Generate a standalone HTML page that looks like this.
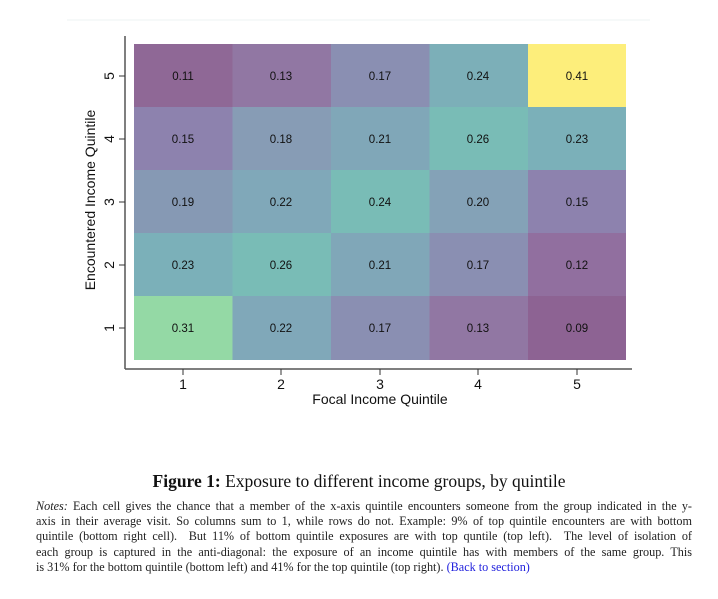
<!DOCTYPE html>
<html><head><meta charset="utf-8"><style>
body{margin:0;background:#fff;width:718px;height:599px;overflow:hidden;position:relative}
.cap{position:absolute;top:471px;left:0;width:718px;text-align:center;font-family:"Liberation Serif",serif;font-size:17.5px;color:#111}
.notes{position:absolute;top:499px;left:36px;width:656px;font-family:"Liberation Serif",serif;font-size:12.2px;line-height:15.2px;color:#222}
.notes div{text-align:justify;text-align-last:justify;white-space:nowrap;overflow:visible}
.notes div.last{text-align-last:left}
</style></head><body>
<svg width="718" height="470" style="position:absolute;left:0;top:0" font-family="Liberation Sans, sans-serif">
<line x1="67" y1="20" x2="650" y2="20" stroke="#eef3f3" stroke-width="1"/>
<line x1="125" y1="36" x2="125" y2="369" stroke="#555" stroke-width="1.5"/>
<line x1="125" y1="369" x2="632" y2="369" stroke="#555" stroke-width="1.5"/>
<g stroke="#333" stroke-width="1">
<line x1="119" y1="76" x2="125" y2="76"/><line x1="119" y1="139" x2="125" y2="139"/><line x1="119" y1="202" x2="125" y2="202"/><line x1="119" y1="265" x2="125" y2="265"/><line x1="119" y1="328" x2="125" y2="328"/>
<line x1="183" y1="369" x2="183" y2="375"/><line x1="281" y1="369" x2="281" y2="375"/><line x1="380" y1="369" x2="380" y2="375"/><line x1="478" y1="369" x2="478" y2="375"/><line x1="577" y1="369" x2="577" y2="375"/>
</g>
<g font-size="14" fill="#111" text-anchor="middle">
<text x="183" y="389">1</text><text x="281" y="389">2</text><text x="380" y="389">3</text><text x="478" y="389">4</text><text x="577" y="389">5</text>
<text x="380" y="404">Focal Income Quintile</text>
<text transform="translate(109,76) rotate(-90)" dy="5">5</text>
<text transform="translate(109,139) rotate(-90)" dy="5">4</text>
<text transform="translate(109,202) rotate(-90)" dy="5">3</text>
<text transform="translate(109,265) rotate(-90)" dy="5">2</text>
<text transform="translate(109,328) rotate(-90)" dy="5">1</text>
<text transform="translate(95,200) rotate(-90)">Encountered Income Quintile</text>
</g>
<g font-size="11.5" fill="#111" text-anchor="middle">
<rect x="134" y="44" width="99" height="64" fill="#8f6896"/><rect x="232.5" y="44" width="99" height="64" fill="#9177a3"/><rect x="331" y="44" width="99" height="64" fill="#8a8fb2"/><rect x="429.5" y="44" width="99" height="64" fill="#7cafb8"/><rect x="528" y="44" width="98" height="64" fill="#fdee7b"/>
<rect x="134" y="107" width="99" height="64" fill="#8d82ae"/><rect x="232.5" y="107" width="99" height="64" fill="#879cb5"/><rect x="331" y="107" width="99" height="64" fill="#80a7b8"/><rect x="429.5" y="107" width="99" height="64" fill="#79bcb6"/><rect x="528" y="107" width="98" height="64" fill="#7bb0b9"/>
<rect x="134" y="170" width="99" height="64" fill="#8699b4"/><rect x="232.5" y="170" width="99" height="64" fill="#80a8b9"/><rect x="331" y="170" width="99" height="64" fill="#79bcb6"/><rect x="429.5" y="170" width="99" height="64" fill="#84a2b7"/><rect x="528" y="170" width="98" height="64" fill="#8d82ae"/>
<rect x="134" y="233" width="99" height="64" fill="#7bb0b9"/><rect x="232.5" y="233" width="99" height="64" fill="#79bcb6"/><rect x="331" y="233" width="99" height="64" fill="#80a7b8"/><rect x="429.5" y="233" width="99" height="64" fill="#8a8fb2"/><rect x="528" y="233" width="98" height="64" fill="#916f9f"/>
<rect x="134" y="296" width="99" height="64" fill="#94d9a5"/><rect x="232.5" y="296" width="99" height="64" fill="#80a8b9"/><rect x="331" y="296" width="99" height="64" fill="#8a8fb2"/><rect x="429.5" y="296" width="99" height="64" fill="#9177a3"/><rect x="528" y="296" width="98" height="64" fill="#8d6393"/>
<text x="183" y="80">0.11</text><text x="281" y="80">0.13</text><text x="380" y="80">0.17</text><text x="478" y="80">0.24</text><text x="577" y="80">0.41</text>
<text x="183" y="143">0.15</text><text x="281" y="143">0.18</text><text x="380" y="143">0.21</text><text x="478" y="143">0.26</text><text x="577" y="143">0.23</text>
<text x="183" y="206">0.19</text><text x="281" y="206">0.22</text><text x="380" y="206">0.24</text><text x="478" y="206">0.20</text><text x="577" y="206">0.15</text>
<text x="183" y="269">0.23</text><text x="281" y="269">0.26</text><text x="380" y="269">0.21</text><text x="478" y="269">0.17</text><text x="577" y="269">0.12</text>
<text x="183" y="332">0.31</text><text x="281" y="332">0.22</text><text x="380" y="332">0.17</text><text x="478" y="332">0.13</text><text x="577" y="332">0.09</text>
</g>
</svg>
<div class="cap"><b>Figure 1:</b> Exposure to different income groups, by quintile</div>
<div class="notes">
<div><i>Notes:</i> Each cell gives the chance that a member of the x-axis quintile encounters someone from the group indicated in the y-</div>
<div>axis in their average visit. So columns sum to 1, while rows do not. Example: 9% of top quintile encounters are with bottom</div>
<div>quintile (bottom right cell). &nbsp;But 11% of bottom quintile exposures are with top quntile (top left). &nbsp;The level of isolation of</div>
<div>each group is captured in the anti-diagonal: the exposure of an income quintile has with members of the same group. This</div>
<div class="last">is 31% for the bottom quintile (bottom left) and 41% for the top quintile (top right). <span style="color:#2222dd">(Back to section)</span></div>
</div>
</body></html>
